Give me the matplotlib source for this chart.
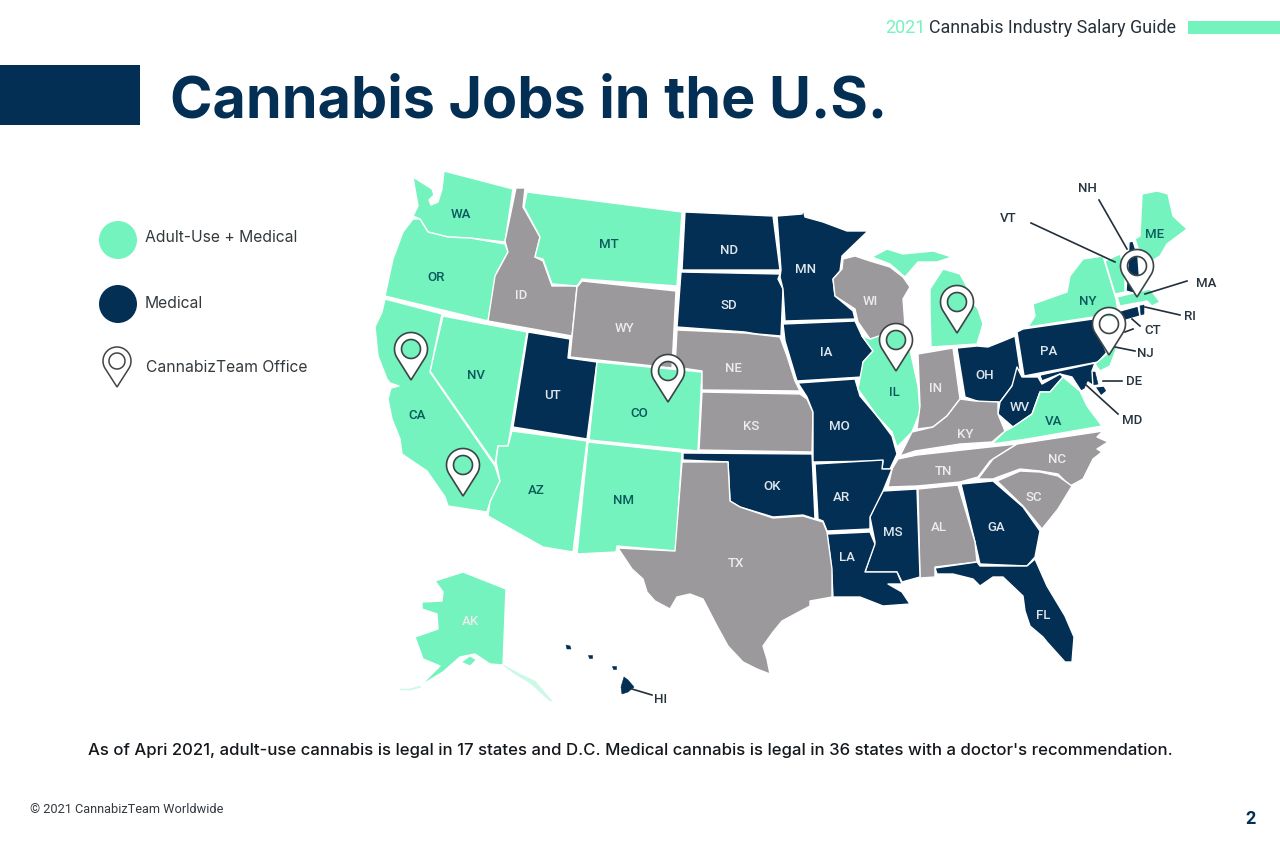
import matplotlib
matplotlib.use("Agg")
import numpy as np
import matplotlib.pyplot as plt
from matplotlib.path import Path
from matplotlib.patches import PathPatch, Polygon, Circle, Rectangle

MINT = "#74f3be"
NAVY = "#042f54"
GRAY = "#9b999b"

# outlines, in picture pixels
WA = [(413,178),(432,190),(434,196),(429,201),(431,206),(438,203),(442,190),(444,172),(513,190),(505,243),(470,239),(448,238),(428,233),(420,220),(413,217),(418,207),(415,190)]
OR = [(413,220),(420,220),(428,233),(448,238),(470,239),(505,245),(508,253),(497,273),(495,287),(488,322),(385,297),(393,260),(403,233)]
ID = [(516,189),(525,189),(523,208),(540,238),(535,258),(543,262),(552,287),(577,287),(572,337),(488,322),(495,277),(508,253),(505,242)]
MT = [(527,193),(682,213),(677,287),(582,280),(577,287),(552,285),(543,260),(535,258),(540,238),(524,208)]
WY = [(582,282),(676,292),(672,369),(570,358),(577,288)]
UT = [(528,333),(570,340),(568,359),(597,363),(587,440),(513,428)]
NV = [(443,317),(527,333),(508,447),(498,447),(495,465),(430,372)]
CA = [(385,300),(442,315),(430,373),(495,467),(500,482),(490,503),(487,513),(448,507),(445,498),(427,472),(402,455),(400,440),(392,420),(388,400),(391,389),(399,387),(390,384),(387,380),(378,357),(375,328),(382,313)]
AZ = [(512,432),(587,442),(573,553),(543,548),(488,517),(490,503),(500,482),(496,463),(498,447),(508,447)]
NM = [(588,443),(682,453),(676,552),(617,547),(616,553),(577,555)]
CO = [(597,363),(702,373),(698,452),(589,441)]
ND = [(685,213),(773,217),(780,271),(682,271)]
SD = [(681,273),(780,275),(778,280),(783,290),(781,337),(757,335),(745,333),(677,328)]
MN = [(777,217),(802,215),(803,210),(805,218),(823,223),(847,232),(868,232),(842,257),(840,272),(833,280),(835,297),(853,312),(855,320),(785,322),(783,290),(780,278),(781,271)]
WI = [(843,260),(855,257),(870,262),(890,268),(903,278),(910,288),(903,300),(905,327),(883,338),(870,340),(858,323),(855,310),(835,297),(833,280),(842,270)]
MI_UP = [(872,258),(887,250),(903,255),(933,252),(952,258),(937,263),(918,263),(905,278),(890,265)]
MI = [(931,348),(930,310),(930,290),(943,270),(960,275),(967,288),(970,300),(978,310),(983,325),(977,345)]
IA = [(783,325),(855,322),(862,337),(873,352),(863,363),(862,378),(797,382),(785,342)]
NE = [(677,331),(745,334),(780,338),(787,357),(795,382),(800,392),(702,391),(702,372),(675,368)]
KS = [(702,393),(800,395),(807,400),(813,413),(812,453),(699,451)]
MO = [(798,384),(855,380),(860,397),(877,417),(892,437),(897,455),(890,470),(882,470),(883,462),(813,463),(813,453),(813,413),(807,398)]
IL = [(870,340),(905,328),(918,387),(920,413),(912,433),(897,448),(892,433),(877,417),(858,390),(863,363),(873,352),(862,337)]
IN = [(918,355),(953,349),(960,400),(947,417),(933,428),(917,430),(920,407)]
OH = [(957,349),(977,347),(988,348),(1003,342),(1015,337),(1020,370),(1012,387),(1000,403),(980,403),(965,398)]
PA = [(1017,333),(1023,330),(1093,320),(1102,335),(1110,350),(1098,363),(1024,377)]
NY = [(1028,328),(1035,317),(1033,305),(1067,293),(1070,277),(1083,260),(1103,257),(1116,300),(1118,313),(1125,322),(1112,318),(1093,318)]
VT = [(1105,262),(1120,255),(1125,270),(1125,293),(1115,295)]
NH = [(1129,243),(1133,242),(1138,258),(1140,285),(1133,294),(1126,292),(1128,265)]
ME = [(1142,195),(1157,192),(1168,195),(1173,217),(1187,230),(1167,245),(1160,257),(1150,263),(1140,255),(1135,240),(1140,237)]
MA = [(1117,298),(1150,290),(1160,303),(1152,307),(1147,302),(1120,307)]
CT = [(1120,312),(1138,307),(1140,317),(1123,322)]
RI = [(1140,307),(1144,306),(1144,315),(1141,316)]
NJ = [(1103,338),(1117,348),(1110,367),(1100,372),(1095,365),(1107,355),(1103,345)]
DE = [(1092,373),(1095,373),(1098,385),(1093,386)]
MD = [(1022,380),(1095,364),(1092,372),(1093,388),(1104,387),(1107,392),(1101,397),(1095,388),(1088,383),(1085,390),(1081,392),(1072,378),(1060,375),(1042,382),(1040,377)]
WV = [(1017,368),(1022,378),(1038,378),(1042,385),(1060,375),(1063,378),(1050,393),(1040,393),(1032,415),(1013,428),(998,415),(1000,403),(1012,387)]
VA = [(992,445),(1005,432),(1013,428),(1032,415),(1040,393),(1050,393),(1063,378),(1080,392),(1087,407),(1102,427),(1027,440)]
KY = [(900,457),(912,433),(933,428),(947,417),(960,400),(975,402),(998,403),(998,415),(1005,432),(992,443),(960,445),(915,452)]
TN = [(888,488),(892,470),(898,460),(917,456),(1017,445),(990,462),(978,478),(960,483),(917,487)]
NC = [(1017,445),(1103,432),(1097,438),(1108,443),(1097,450),(1102,453),(1093,460),(1083,480),(1070,487),(1058,475),(1040,472),(1020,470),(998,478),(993,480),(978,480),(993,460)]
SC = [(997,482),(1020,472),(1040,473),(1058,477),(1072,487),(1058,510),(1042,530),(1023,507)]
GA = [(961,485),(993,482),(1023,508),(1040,532),(1035,558),(1027,567),(980,565),(975,543)]
AL = [(918,490),(958,486),(975,543),(977,563),(935,568),(935,578),(920,579)]
MS = [(883,492),(917,490),(920,578),(902,583),(897,573),(865,573),(875,543),(870,518),(877,502)]
AR = [(815,465),(883,461),(882,470),(892,470),(883,492),(870,518),(870,530),(827,532),(823,522),(818,520)]
LA = [(827,535),(870,533),(875,545),(865,573),(897,573),(902,585),(888,585),(902,593),(910,605),(883,607),(860,598),(833,598),(832,577),(830,557)]
OK = [(683,454),(812,455),(815,520),(803,516),(773,518),(740,508),(730,502),(728,463),(683,461)]
TX = [(682,463),(728,463),(730,502),(740,508),(773,519),(803,517),(823,523),(827,533),(832,570),(832,598),(810,602),(810,607),(782,622),(773,633),(763,647),(767,660),(770,675),(757,670),(743,663),(728,647),(717,627),(703,600),(690,595),(677,598),(670,610),(655,602),(647,593),(643,580),(632,570),(618,549),(675,552)]
FL = [(935,569),(977,563),(980,567),(1027,567),(1035,560),(1047,587),(1065,617),(1074,638),(1072,663),(1065,663),(1047,643),(1043,638),(1030,627),(1025,612),(1023,597),(1003,578),(993,578),(980,587),(973,580),(953,575),(937,575)]
AK = [(435,582),(463,573),(506,590),(503,666),(490,665),(475,655),(460,658),(443,673),(420,687),(440,667),(423,660),(415,638),(438,630),(437,615),(422,610),(422,603),(442,602),(443,593)]
AK_ISLAND = [(463,663),(470,658),(475,661),(470,666)]
AK_STRIP = [(503,666),(520,675),(535,682),(552,702),(550,702),(530,684),(515,675)]
AK_CHAIN = [(420,687),(410,690),(400,690),(400,691),(411,691),(421,688)]
HI_1 = [(566,646),(570,647),(571,650),(567,650)]
HI_2 = [(588,656),(592,656),(592,659),(589,659)]
HI_3 = [(612,667),(616,667),(616,670),(613,670)]
HI_4 = [(624,678),(628,681),(634,688),(628,693),(622,695),(621,688)]

state_shapes = [WA, OR, ID, MT, WY, UT, NV, CA, AZ, NM, CO, ND, SD, MN, WI, MI_UP, MI, IA, NE, KS, MO, IL, IN, OH, PA, NY, VT, NH, ME, MA, CT, RI, NJ, DE, MD, WV, VA, KY, TN, NC, SC, GA, AL, MS, AR, LA, OK, TX, FL, AK, AK_ISLAND, AK_STRIP, AK_CHAIN, HI_1, HI_2, HI_3, HI_4]
state_groups = ["a","a","n","a","n","m","a","a","a","a","a","m","m","m","n","a","a","m","n","n","m","a","n","m","m","a","a","m","a","a","m","m","a","m","m","m","a","n","n","n","n","m","n","m","m","m","m","n","m","a","a","f","f","m","m","m","m"]
group_colors = {"a": MINT, "m": NAVY, "n": GRAY, "f": "#cdf8e6"}
small_shapes = [RI, DE, AK_ISLAND, AK_STRIP, AK_CHAIN, HI_1, HI_2, HI_3, HI_4]

labels = ["WA","OR","ID","MT","WY","UT","NV","CA","AZ","NM","CO","ND","SD","MN","WI","IA","NE","KS","MO","IL","IN","OH","PA","NY","ME","WV","VA","KY","TN","NC","SC","GA","AL","MS","AR","LA","OK","TX","FL","AK"]
label_x = [461,436,521,609,625,552,476,417,536,624,639,729,729,806,870,826,733,751,839,894,936,985,1049,1088,1155,1020,1054,965,943,1057,1034,996,939,893,841,847,772,736,1043,470]
label_y = [214,278,296,245,329,396,376,416,491,501,414,250,306,270,302,353,369,427,427,393,389,376,352,302,234,408,422,435,472,460,498,528,528,533,498,558,487,564,616,622]
label_kind = ["a","a","n","a","n","m","a","a","a","a","a","m","m","m","n","m","n","n","m","a","n","m","m","a","a","m","a","n","n","n","n","m","n","m","m","m","m","n","m","n"]
label_colors = {"a": "#0b5a5c", "m": "#dfe6ec", "n": "#ececec"}

out_names = ["NH","VT","MA","RI","CT","NJ","DE","MD","HI"]
out_x = [1087,1008,1206,1190,1153,1145,1134,1132,661]
out_y = [188,218,284,317,331,354,382,421,700]

leader_x0 = [1099,1031,1187,1180,1132,1125,1115,1103,1085,632]
leader_y0 = [201,224,282,316,320,333,348,382,385,690]
leader_x1 = [1127,1115,1145,1145,1140,1133,1135,1122,1118,652]
leader_y1 = [250,263,295,308,327,330,352,382,415,696]

pin_x = [411,463,668,896,957,1137,1109]
pin_y = [350,466,372,341,303,267,325]

legend_text = ["Adult-Use + Medical","Medical","CannabizTeam Office"]


def pin_path(x, y, r, tip, hole):
    # round head running into a point, the hole goes the other way round
    a = np.arccos(r / tip)
    t = np.linspace(np.pi / 2 + a, np.pi / 2 + 2 * np.pi - a, 60)
    xs = list(x + r * np.cos(t)) + [x]
    ys = list(y + r * np.sin(t)) + [y + tip]
    t2 = np.linspace(2 * np.pi, 0, 50)
    hx = list(x + hole * np.cos(t2))
    hy = list(y + hole * np.sin(t2))
    verts = list(zip(xs, ys)) + [(xs[0], ys[0])] + list(zip(hx, hy))
    codes = [Path.MOVETO] + [Path.LINETO] * (len(xs) - 1) + [Path.CLOSEPOLY] + [Path.MOVETO] + [Path.LINETO] * (len(hx) - 1)
    return Path(verts, codes)


fig = plt.figure(figsize=(12.8, 8.54), dpi=100)
ax = fig.add_axes([0, 0, 1, 1])
ax.set_xlim(0, 1280)
ax.set_ylim(854, 0)
ax.axis("off")

for shape, g in zip(state_shapes, state_groups):
    c = group_colors[g]
    if any(shape is s for s in small_shapes):
        ax.add_patch(Polygon(shape, closed=True, facecolor=c, edgecolor=c, linewidth=0.4))
    else:
        ax.add_patch(Polygon(shape, closed=True, facecolor=c, edgecolor="white", linewidth=1.0, joinstyle="round"))

for n, x, y, k in zip(labels, label_x, label_y, label_kind):
    ax.text(x, y, n, color=label_colors[k], fontsize=9.5, family="Roboto", weight="medium", ha="center", va="center")

for x0, y0, x1, y1 in zip(leader_x0, leader_y0, leader_x1, leader_y1):
    ax.plot([x0, x1], [y0, y1], color="#222f3c", lw=1.2, zorder=3)

for n, x, y in zip(out_names, out_x, out_y):
    ax.text(x, y, n, color="#27343f", fontsize=9.5, family="Roboto", weight="medium", ha="center", va="center")

for x, y in zip(pin_x, pin_y):
    ax.add_patch(PathPatch(pin_path(x, y, 16.5, 31, 9.5), facecolor="white", edgecolor="#3d4446", linewidth=1.2, zorder=5))

# header
ax.add_patch(Rectangle((0, 66), 140, 60, facecolor=NAVY, edgecolor="none"))
ax.add_patch(Rectangle((1188, 22), 92, 13, facecolor=MINT, edgecolor="none"))
ax.text(885, 28, "2021", color=MINT, fontsize=12.9, family="Roboto", va="center")
ax.text(1176, 28, "Cannabis Industry Salary Guide", color="#25313b", fontsize=12.9, family="Roboto", ha="right", va="center")
ax.text(170, 102, "Cannabis Jobs in the U.S.", color=NAVY, fontsize=41.4, family="Inter", weight="bold", va="center")

# legend
ax.add_patch(Circle((118, 241), 19, facecolor=MINT, edgecolor="none"))
ax.add_patch(Circle((118, 305), 19, facecolor=NAVY, edgecolor="none"))
ax.add_patch(PathPatch(pin_path(117, 362, 14, 26, 8), facecolor="white", edgecolor="#444444", linewidth=1.1))
for t, x, y in zip(legend_text, [145, 145, 146], [237, 304, 368]):
    ax.text(x, y, t, color="#33393d", fontsize=11.3, family="Inter", va="center")

# footer
ax.text(630, 751, "As of Apri 2021, adult-use cannabis is legal in 17 states and D.C. Medical cannabis is legal in 36 states with a doctor's recommendation.",
        color="#14181c", fontsize=12.05, family="Inter", weight="medium", ha="center", va="center")
ax.text(30, 810, "© 2021 CannabizTeam Worldwide", color="#333a40", fontsize=9.2, family="Roboto", va="center")
ax.text(1251, 819, "2", color=NAVY, fontsize=13, family="Roboto", weight="bold", ha="center", va="center")

fig.savefig("out.png", dpi=100)
